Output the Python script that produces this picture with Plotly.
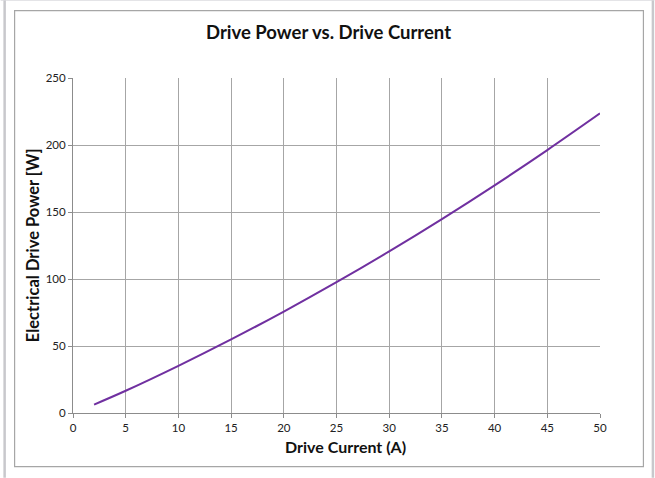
import plotly.graph_objects as go

current_a = [2, 5, 10, 15, 20, 25, 30, 35, 40, 45, 50]
power_w = [6.3, 16.6, 35.2, 54.9, 75.7, 97.6, 120.6, 144.7, 169.9, 196.2, 223.6]
x_ticks = list(range(0, 51, 5))
y_ticks = list(range(0, 251, 50))

W, H = 655, 478
L, R, T, B = 72.5, 54.5, 78.3, 64.7
pw, ph = W - L - R, H - T - B

def px(x):
    return (x - L) / pw

def py(y):
    return (H - B - y) / ph

fig = go.Figure()
fig.add_trace(go.Scatter(
    x=current_a, y=power_w, mode="lines",
    line=dict(color="#7030a0", width=2, shape="spline"),
    showlegend=False, hoverinfo="x+y"))

font = "Lato, Calibri, Carlito, sans-serif"
grid = "#a6a6a6"
fig.update_layout(
    width=W, height=H,
    margin=dict(l=L, r=R, t=T, b=B, autoexpand=False),
    paper_bgcolor="white", plot_bgcolor="white",
    font=dict(family=font, size=11, color="#222222"),
    xaxis=dict(range=[0, 50], tickvals=x_ticks, showgrid=True, gridcolor=grid,
               gridwidth=1, showline=True, linecolor="#8c8c8c", linewidth=1,
               ticks="outside", ticklen=4, tickcolor="#8c8c8c", zeroline=False,
               automargin=False, tickfont=dict(size=11.5, color="#222222")),
    yaxis=dict(range=[0, 250], tickvals=y_ticks, showgrid=True, gridcolor=grid,
               gridwidth=1, showline=True, linecolor="#8c8c8c", linewidth=1,
               ticks="outside", ticklen=4, tickcolor="#8c8c8c", zeroline=False,
               automargin=False, tickfont=dict(size=11.5, color="#222222")),
    shapes=[
        dict(type="rect", xref="paper", yref="paper",
             x0=px(14), x1=px(644), y0=py(11), y1=py(467),
             line=dict(color="#a6a6a6", width=1.2), fillcolor="rgba(0,0,0,0)", layer="below"),
        dict(type="line", xref="paper", yref="paper",
             x0=px(4), x1=px(4), y0=py(0), y1=py(478),
             line=dict(color="#c8c8cc", width=2.5)),
        dict(type="line", xref="paper", yref="paper",
             x0=px(653.5), x1=px(653.5), y0=py(0), y1=py(478),
             line=dict(color="#c8c8cc", width=2.5)),
        dict(type="line", xref="paper", yref="paper",
             x0=px(0), x1=px(655), y0=py(0.5), y1=py(0.5),
             line=dict(color="#d8d8dc", width=1)),
    ],
    annotations=[
        dict(text="<b>Drive Power vs. Drive Current</b>", xref="paper", yref="paper",
             x=px(328), y=py(32), showarrow=False, xanchor="center", yanchor="middle",
             font=dict(family=font, size=18.5, color="#111111")),
        dict(text="<b>Drive Current (A)</b>", xref="paper", yref="paper",
             x=px(346), y=py(447), showarrow=False, xanchor="center", yanchor="middle",
             font=dict(family=font, size=16, color="#111111")),
        dict(text="<b>Electrical Drive Power [W]</b>", xref="paper", yref="paper",
             x=px(32), y=py(246), showarrow=False, xanchor="center", yanchor="middle",
             textangle=-90, font=dict(family=font, size=16.5, color="#111111")),
    ],
)

fig.write_html("out.html", config={"displayModeBar": False},
               post_script="document.body.style.margin='0';document.body.style.padding='0';")
